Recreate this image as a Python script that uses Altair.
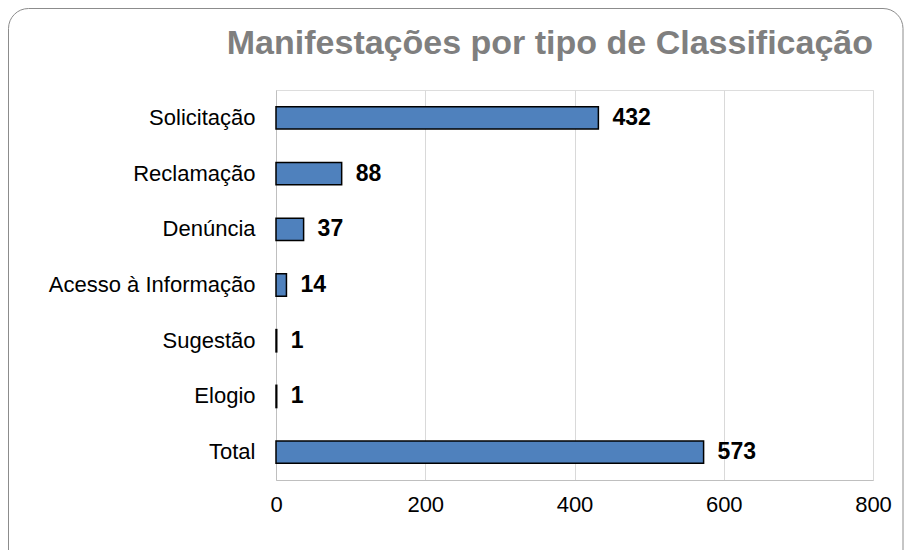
import altair as alt
import pandas as pd

categories = ["Solicitação", "Reclamação", "Denúncia", "Acesso à Informação", "Sugestão", "Elogio", "Total"]
values = [432, 88, 37, 14, 1, 1, 573]
x_ticks = [0, 200, 400, 600, 800]

df = pd.DataFrame({"cat": categories, "val": values})
FONT = "Liberation Sans"

base = alt.Chart(df)

y_enc = alt.Y("cat:N", sort=categories, title=None,
              scale=alt.Scale(paddingInner=0.6, paddingOuter=0.3),
              axis=alt.Axis(ticks=False, labelFontSize=22, labelFont=FONT, labelColor="#000000",
                            labelPadding=21, labelLimit=400, domainColor="#bfbfbf", domainWidth=1))
x_enc = alt.X("val:Q", title=None, scale=alt.Scale(domain=[0, 800], nice=False),
              axis=alt.Axis(values=x_ticks, ticks=False, labelFontSize=22, labelFont=FONT,
                            labelColor="#000000", labelPadding=14, grid=True,
                            gridColor="#d9d9d9", gridWidth=1, domainColor="#bfbfbf",
                            labelFlush=False))

bars = base.mark_bar(color="#4F81BD", stroke="#000000", strokeWidth=1.5).encode(x=x_enc, y=y_enc)
labels = base.mark_text(align="left", baseline="middle", dx=14, fontSize=23, fontWeight="bold",
                        font=FONT, color="#000000").encode(
    x="val:Q", y=alt.Y("cat:N", sort=categories), text="val:Q")

frame = alt.Chart(pd.DataFrame({"a": [0]})).mark_rect(
    fillOpacity=0, stroke="#8c8c8c", strokeWidth=1, cornerRadius=20
).encode(x=alt.value(-267.5), x2=alt.value(627), y=alt.value(-81.5), y2=alt.value(480))

chart = alt.layer(frame, bars, labels).properties(
    width=597, height=390,
    autosize=alt.AutoSizeParams(type="none"),
    padding={"left": 268, "top": 82, "right": 31, "bottom": 70},
    title=alt.TitleParams("Manifestações por tipo de Classificação", anchor="end", frame="group",
                          fontSize=34, font=FONT, fontWeight="bold", color="#7f7f7f",
                          baseline="alphabetic", offset=-80),
).configure_view(stroke=None).configure(background="#ffffff")

chart.save("out.html", embed_options={"renderer": "svg", "actions": False})
